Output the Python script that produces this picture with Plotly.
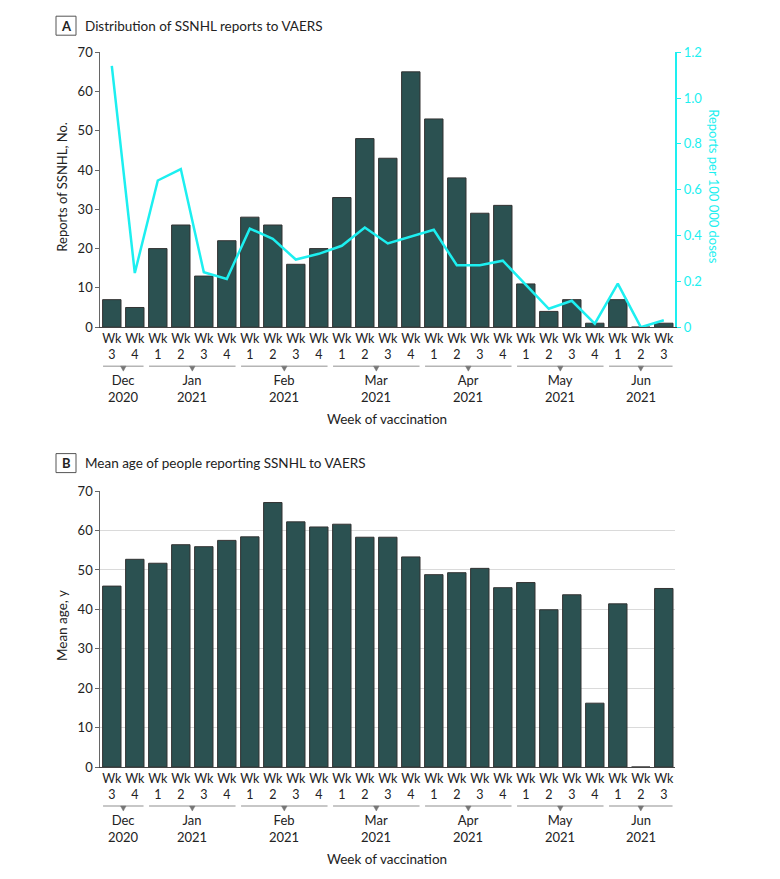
import plotly.graph_objects as go

W, H = 780, 879
# the returned photo maps figure y to 0.982*y + 7.8; pre-compensate layout positions
SY, OY = 0.982, 7.8

week_nums = ["3", "4", "1", "2", "3", "4", "1", "2", "3", "4", "1", "2", "3", "4",
             "1", "2", "3", "4", "1", "2", "3", "4", "1", "2", "3"]
month_names = ["Dec", "Jan", "Feb", "Mar", "Apr", "May", "Jun"]
month_years = ["2020", "2021", "2021", "2021", "2021", "2021", "2021"]
month_counts = [2, 4, 4, 4, 4, 4, 3]

reports = [7, 5, 20, 26, 13, 22, 28, 26, 16, 20, 33, 48, 43, 65,
           53, 38, 29, 31, 11, 4, 7, 1, 7, 0, 1]
rate_per_100k = [1.14, 0.236, 0.64, 0.69, 0.24, 0.21, 0.43, 0.385, 0.295, 0.32,
                 0.355, 0.435, 0.365, 0.395, 0.425, 0.27, 0.27, 0.29, 0.185,
                 0.08, 0.115, 0.015, 0.19, 0.0, 0.03]
mean_age = [45.9, 52.7, 51.7, 56.4, 55.9, 57.5, 58.4, 67.1, 62.2, 60.9, 61.6,
            58.3, 58.3, 53.3, 48.8, 49.3, 50.4, 45.5, 46.8, 39.9, 43.7, 16.2,
            41.4, 0, 45.3]

rate_ticks = [0, 0.2, 0.4, 0.6, 0.8, 1.0, 1.2]
rate_ticktext = ["0", "0.2", "0.4", "0.6", "0.8", "1.0", "1.2"]

FONT = "Lato"
BAR = "#2B5151"
CYAN = "#1DEFF0"
DARK = "#222222"
AXIS = "#666666"

idx = list(range(len(week_nums)))
ticktext = ["Wk<br>" + w for w in week_nums]


def px(x):
    return x / W


def py(y):
    return 1 - ((y - OY) / SY) / H


fig = go.Figure()
fig.add_trace(go.Bar(x=idx, y=reports, marker=dict(color=BAR, line=dict(color="#333333", width=1)),
                     xaxis="x", yaxis="y", showlegend=False))
fig.add_trace(go.Scatter(x=idx, y=rate_per_100k, mode="lines", line=dict(color=CYAN, width=2.5),
                         xaxis="x", yaxis="y2", showlegend=False))
fig.add_trace(go.Bar(x=idx, y=mean_age, marker=dict(color=BAR, line=dict(color="#333333", width=1)),
                     xaxis="x2", yaxis="y3", showlegend=False))

xdom = [px(100.3), px(675.3)]
domA = [py(327), py(52)]
domB = [py(767), py(491)]

xcommon = dict(domain=xdom, range=[-0.5, len(idx) - 0.5], tickvals=idx, ticktext=ticktext,
               showline=True, linecolor="#444444", linewidth=1.2, ticks="", showgrid=False,
               zeroline=False, tickfont=dict(family=FONT, size=12.5, color=DARK), fixedrange=True)

fig.update_layout(
    width=W, height=H, margin=dict(l=0, r=0, t=0, b=0),
    paper_bgcolor="white", plot_bgcolor="white", bargap=0.2,
    font=dict(family=FONT, color=DARK),
    xaxis=dict(anchor="y", **xcommon),
    yaxis=dict(domain=domA, range=[0, 70], tickvals=list(range(0, 71, 10)), showgrid=False,
               showline=True, linecolor=AXIS, linewidth=1, ticks="outside", ticklen=4,
               tickcolor=AXIS, zeroline=False, tickfont=dict(family=FONT, size=13, color=DARK)),
    yaxis2=dict(overlaying="y", side="right", anchor="x", range=[0, 1.2], tickvals=rate_ticks,
                ticktext=rate_ticktext, showgrid=False, showline=True, linecolor=CYAN, linewidth=1.5,
                ticks="outside", ticklen=4, tickcolor=CYAN, zeroline=False,
                tickfont=dict(family=FONT, size=13, color=CYAN)),
    xaxis2=dict(anchor="y3", **xcommon),
    yaxis3=dict(domain=domB, range=[0, 70], tickvals=list(range(0, 71, 10)), showgrid=True,
                gridcolor="#DADADA", gridwidth=1, showline=True, linecolor=AXIS, linewidth=1,
                ticks="outside", ticklen=4, tickcolor=AXIS, zeroline=False,
                tickfont=dict(family=FONT, size=13, color=DARK)),
)

shapes = []
annotations = []

# Panel labels
for letter, cy, title in [("A", 25.5, "Distribution of SSNHL reports to VAERS"),
                          ("B", 463, "Mean age of people reporting SSNHL to VAERS")]:
    shapes.append(dict(type="rect", xref="paper", yref="paper", x0=px(56), x1=px(76),
                       y0=py(cy - 9.5), y1=py(cy + 9.5), line=dict(color="#555555", width=1)))
    annotations.append(dict(text="<b>" + letter + "</b>", x=px(66), y=py(cy), xref="paper", yref="paper",
                            showarrow=False, xanchor="center", yanchor="middle",
                            font=dict(family=FONT, size=13, color=DARK)))
    annotations.append(dict(text=title, x=px(83), y=py(cy), xref="paper", yref="paper",
                            showarrow=False, xanchor="left", yanchor="middle",
                            font=dict(family=FONT, size=13.5, color=DARK)))

# Month brackets and labels
for xref, base in [("x", 327), ("x2", 767)]:
    start = 0
    for name, year, n in zip(month_names, month_years, month_counts):
        x0 = start - 0.38
        x1 = start + n - 1 + 0.38
        xc = start + (n - 1) / 2
        yl = py(base + 39)
        shapes.append(dict(type="line", xref=xref, yref="paper", x0=x0, x1=x1, y0=yl, y1=yl,
                           line=dict(color="#B5B5B5", width=1.5)))
        shapes.append(dict(type="path", xref=xref, yref="paper",
                           path=f"M {xc - 0.12},{yl} L {xc + 0.12},{yl} L {xc},{py(base + 44)} Z",
                           fillcolor="#777777", line=dict(color="#777777", width=0.5)))
        annotations.append(dict(text=f"{name}<br>{year}", x=xc, y=py(base + 61), xref=xref, yref="paper",
                                showarrow=False, xanchor="center", yanchor="middle",
                                font=dict(family=FONT, size=13, color=DARK)))
        start += n
    annotations.append(dict(text="Week of vaccination", x=px(387), y=py(base + 92), xref="paper",
                            yref="paper", showarrow=False, xanchor="center", yanchor="middle",
                            font=dict(family=FONT, size=13.5, color=DARK)))

# Axis titles
annotations.append(dict(text="Reports of SSNHL, No.", x=px(62), y=py(186.5), xref="paper", yref="paper",
                        showarrow=False, textangle=-90, xanchor="center", yanchor="middle",
                        font=dict(family=FONT, size=13, color=DARK)))
annotations.append(dict(text="Reports per 100 000 doses", x=px(714), y=py(186), xref="paper", yref="paper",
                        showarrow=False, textangle=90, xanchor="center", yanchor="middle",
                        font=dict(family=FONT, size=13, color=CYAN)))
annotations.append(dict(text="Mean age, y", x=px(62), y=py(625), xref="paper", yref="paper",
                        showarrow=False, textangle=-90, xanchor="center", yanchor="middle",
                        font=dict(family=FONT, size=13.5, color=DARK)))

fig.update_layout(shapes=shapes, annotations=annotations)
fig.write_html(
    "out.html",
    config={"displayModeBar": False},
    post_script="document.body.style.margin='0';",
)
